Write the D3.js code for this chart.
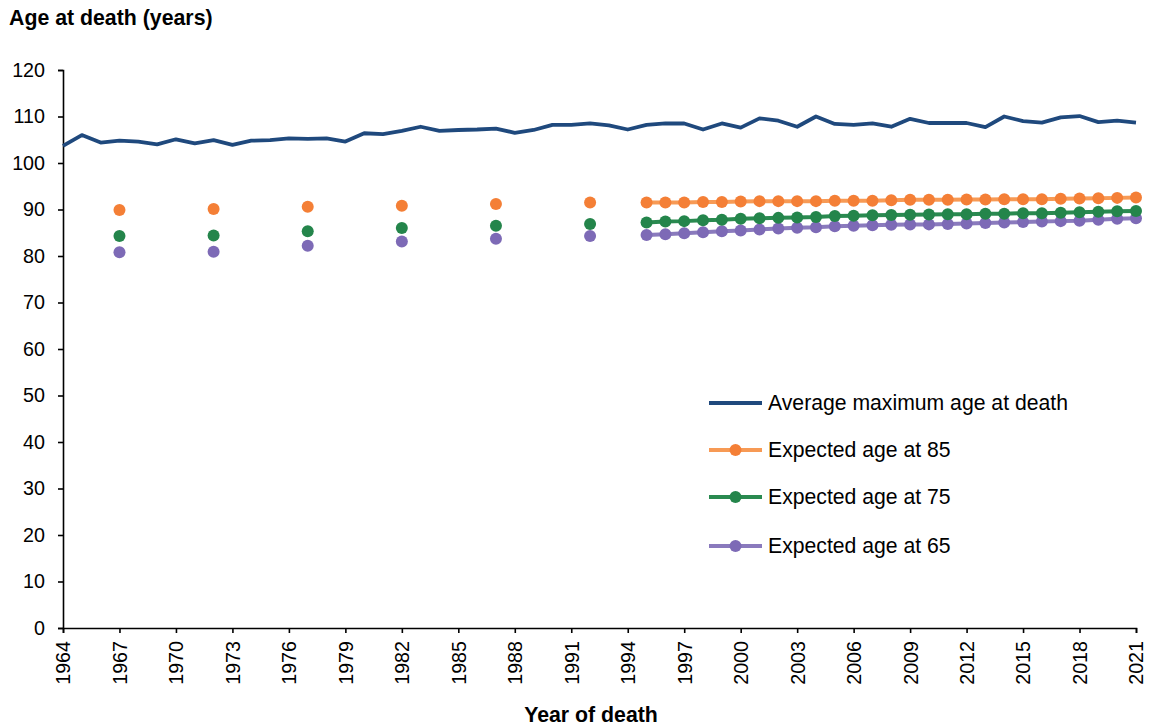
<!DOCTYPE html>
<html><head><meta charset="utf-8">
<script src="https://cdn.jsdelivr.net/npm/d3@7"></script>
<style>body{margin:0;background:#fff;}svg{display:block;font-family:"Liberation Sans",Arial,sans-serif;}</style>
</head><body>
<script>
// Average maximum age at death, 1964–2021
const maxYears = d3.range(1964, 2022);
const maxAge = [103.7,106.0,104.4,104.8,104.6,104.0,105.1,104.2,104.9,103.9,
  104.8,104.9,105.3,105.2,105.3,104.6,106.4,106.2,106.9,107.8,
  106.9,107.1,107.2,107.4,106.5,107.1,108.2,108.2,108.5,108.1,
  107.2,108.2,108.5,108.5,107.2,108.5,107.6,109.6,109.1,107.8,
  110.0,108.4,108.2,108.5,107.8,109.5,108.6,108.6,108.6,107.7,
  110.0,109.0,108.7,109.8,110.1,108.8,109.1,108.7];

// Early, five-yearly expected ages (unconnected points)
const earlyYears = [1967,1972,1977,1982,1987,1992];
const early85 = [89.9,90.1,90.6,90.8,91.2,91.5];
const early75 = [84.3,84.4,85.3,86.0,86.5,86.9];
const early65 = [80.8,80.9,82.2,83.1,83.7,84.3];

// Annual expected ages 1995–2021 (connected)
const annualYears = d3.range(1995, 2022);
const annual85 = [91.5,91.5,91.5,91.6,91.6,91.7,91.8,91.8,91.8,91.8,91.9,91.9,91.9,92.0,
  92.1,92.1,92.1,92.15,92.15,92.2,92.2,92.2,92.3,92.35,92.4,92.5,92.6];
const annual75 = [87.2,87.4,87.5,87.7,87.8,88.0,88.1,88.2,88.3,88.4,88.6,88.65,88.75,88.8,
  88.85,88.9,89.0,89.0,89.1,89.1,89.2,89.2,89.3,89.4,89.5,89.6,89.7];
const annual65 = [84.5,84.7,84.9,85.1,85.3,85.5,85.7,85.9,86.1,86.2,86.4,86.5,86.6,86.7,
  86.75,86.8,86.9,87.0,87.1,87.2,87.3,87.4,87.5,87.6,87.8,88.0,88.1];

const yTicks = d3.range(0, 121, 10);
const xTicks = d3.range(1964, 2022, 3);

const seriesNames = ["Average maximum age at death","Expected age at 85","Expected age at 75","Expected age at 65"];
const dotColors = ["#1F497D","#F47F36","#24854B","#7D6AB6"];
const lineColors = ["#1F497D","#F79A55","#2A8A50","#8A7ABD"];

const W = 1149, H = 727;
const m = {left:63, right:13, top:70, bottom:99};
const svg = d3.select("body").append("svg").attr("width", W).attr("height", H);

const x = d3.scaleLinear().domain([1964, 2021]).range([m.left, W - m.right]);
const y = d3.scaleLinear().domain([0, 120]).range([H - m.bottom, m.top]);

// Axes
const yAxis = svg.append("g").attr("transform", `translate(${m.left},0)`)
  .call(d3.axisLeft(y).tickValues(yTicks).tickSize(5).tickPadding(13));
const xAxis = svg.append("g").attr("transform", `translate(0,${H - m.bottom})`)
  .call(d3.axisBottom(x).tickValues(xTicks).tickFormat(d3.format("d")).tickSize(5));
[yAxis, xAxis].forEach(g => {
  g.select(".domain").attr("stroke", "#000").attr("stroke-width", 1.6);
  g.selectAll(".tick line").attr("stroke", "#000").attr("stroke-width", 1.6);
  g.selectAll("text").attr("fill", "#000").style("font-size", "19.7px")
   .style("font-family", '"Liberation Sans",Arial,sans-serif');
});
xAxis.selectAll(".tick text")
  .attr("transform", "rotate(-90)")
  .attr("text-anchor", "end")
  .attr("x", -13).attr("y", 0).attr("dy", "0.35em");

// Titles
svg.append("text").attr("x", 9).attr("y", 25).text("Age at death (years)")
  .style("font-size", "21.3px").style("font-weight", "bold");
svg.append("text").attr("x", 591).attr("y", 722).attr("text-anchor", "middle")
  .text("Year of death").style("font-size", "21.3px").style("font-weight", "bold");

// Blue line
const line = d3.line().x(d => x(d[0])).y(d => y(d[1]));
svg.append("path").datum(maxYears.map((yr, i) => [yr, maxAge[i]]))
  .attr("d", line).attr("fill", "none").attr("stroke", lineColors[0])
  .attr("stroke-width", 3.8).attr("stroke-linejoin", "round");

// Expected-age series
const sets = [
  {early: early85, annual: annual85, i: 1},
  {early: early75, annual: annual75, i: 2},
  {early: early65, annual: annual65, i: 3}
];
sets.slice().reverse().forEach(s => {
  svg.append("path").datum(annualYears.map((yr, k) => [yr, s.annual[k]]))
    .attr("d", line).attr("fill", "none").attr("stroke", lineColors[s.i])
    .attr("stroke-width", 4);
});
sets.slice().reverse().forEach(s => {
  const g = svg.append("g").attr("fill", dotColors[s.i]);
  g.selectAll("circle.e").data(earlyYears.map((yr, k) => [yr, s.early[k]])).join("circle")
    .attr("cx", d => x(d[0])).attr("cy", d => y(d[1])).attr("r", 6);
  g.selectAll("circle.a").data(annualYears.map((yr, k) => [yr, s.annual[k]])).enter().append("circle")
    .attr("cx", d => x(d[0])).attr("cy", d => y(d[1])).attr("r", 6);
});

// Legend
const leg = svg.append("g");
const legY = [403, 450, 497, 546];
seriesNames.forEach((name, i) => {
  const gy = legY[i];
  leg.append("line").attr("x1", 709).attr("x2", 762).attr("y1", gy).attr("y2", gy)
    .attr("stroke", lineColors[i]).attr("stroke-width", i === 0 ? 3.8 : 4);
  if (i > 0) leg.append("circle").attr("cx", 735.5).attr("cy", gy).attr("r", 6).attr("fill", dotColors[i]);
  leg.append("text").attr("x", 768).attr("y", gy).attr("dy", "0.35em").text(name)
    .style("font-size", "21.2px").attr("fill", "#000");
});
</script>
</body></html>
